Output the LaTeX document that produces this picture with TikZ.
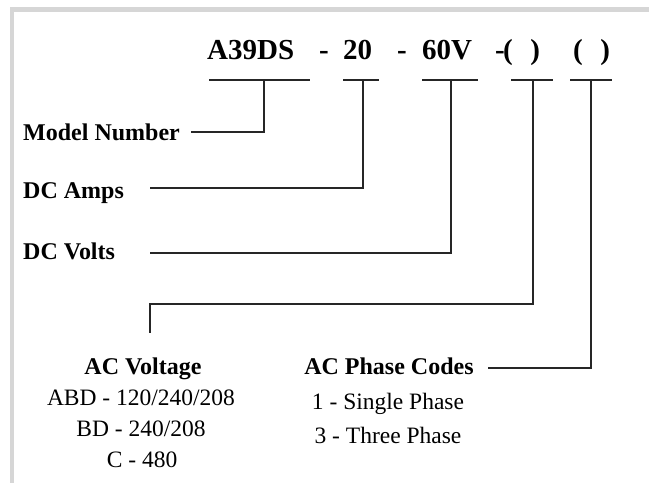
\documentclass[tikz,border=0pt]{standalone}
\usepackage{fontspec}
\setmainfont{Liberation Serif}

\begin{document}
\begin{tikzpicture}[x=1pt, y=-1pt,
    code/.style={anchor=base west, inner sep=0pt, font=\fontsize{29}{34}\selectfont\bfseries},
    label/.style={anchor=base west, inner sep=0pt, font=\fontsize{24}{29}\selectfont\bfseries},
    head/.style={anchor=base, inner sep=0pt, font=\fontsize{24}{29}\selectfont\bfseries},
    entry/.style={anchor=base, inner sep=0pt, font=\fontsize{23.5}{29}\selectfont},
    lead/.style={line width=1.6pt, black!85}]
  \useasboundingbox (0,0) rectangle (649,487);

  % Frame
  \fill[black!16] (10,7) rectangle (649,12);
  \fill[black!16] (10,7) rectangle (14,483);

  % Part number
  \node[code] (partA) at (207,60) {A39DS};
  \node[code] (dash1) at (319,60) {-};
  \node[code] (partB) at (343,60) {20};
  \node[code] (dash2) at (397,60) {-};
  \node[code] (partC) at (422,60) {60V};
  \node[code] (dash3) at (495,60) {-};
  \node[code] (partD) at (503,60) {(\hspace{0.6em})};
  \node[code] (partE) at (573,60) {(\hspace{0.6em})};

  % Underlines and taps
  \coordinate (tA) at (264,80);
  \coordinate (tB) at (363,80);
  \coordinate (tC) at (451,80);
  \coordinate (tD) at (533,80);
  \coordinate (tE) at (591,80);
  \draw[lead] (209,80) -- (310,80);
  \draw[lead] (343,80) -- (379,80);
  \draw[lead] (422,80) -- (478,80);
  \draw[lead] (511,80) -- (553,80);
  \draw[lead] (570,80) -- (612,80);

  % Labels
  \node[label] (model) at (23,140) {Model Number};
  \node[label] (amps) at (23,198) {DC Amps};
  \node[label] (volts) at (23,259) {DC Volts};

  % Leaders
  \coordinate (modelEnd) at (191,132);
  \coordinate (ampsEnd) at (150,188);
  \coordinate (voltsEnd) at (150,253);
  \draw[lead] (modelEnd) -| (tA);
  \draw[lead] (ampsEnd) -| (tB);
  \draw[lead] (voltsEnd) -| (tC);

  \coordinate (acBend) at (150,304);
  \coordinate (acEnd) at (150,333);
  \draw[lead] (tD) |- (acBend) -- (acEnd);

  \coordinate (phaseEnd) at (488,368);
  \draw[lead] (phaseEnd) -| (tE);

  % AC voltage codes
  \node[head] (acv) at (143,374) {AC Voltage};
  \node[entry] (acvA) at (141,405) {ABD - 120/240/208};
  \node[entry] (acvB) at (141,436) {BD - 240/208};
  \node[entry] (acvC) at (142,467) {C - 480};

  % AC phase codes
  \node[head] (phase) at (389,374) {AC Phase Codes};
  \node[entry] (phase1) at (388,409) {1 - Single Phase};
  \node[entry] (phase3) at (388,443) {3 - Three Phase};
\end{tikzpicture}
\end{document}
